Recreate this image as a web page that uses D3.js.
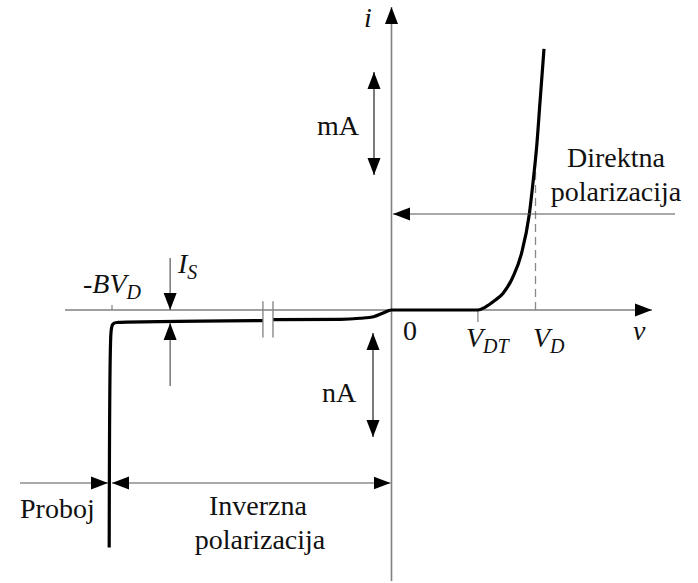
<!DOCTYPE html>
<html>
<head>
<meta charset="utf-8">
<script src="https://cdn.jsdelivr.net/npm/d3@7/dist/d3.min.js"></script>
<style>
  html, body { margin: 0; padding: 0; background: #fff; }
  svg { display: block; }
</style>
</head>
<body>
<svg id="chart" width="698" height="583"></svg>
<script>
// Diode i-v characteristic (schematic units: volts on v, mA forward / nA reverse on i)

// Voltage marks on the v axis
const markNames  = ["-BV_D", "0", "V_DT", "V_D"];
const markValues = [-50, 0, 0.6, 1.0];

// Forward branch (v, i in mA)
const fwdV = [0, 0.6, 0.649, 0.718, 0.774, 0.843, 0.903, 0.957, 0.985, 1.008, 1.031, 1.059];
const fwdI = [0, 0, 0.28, 1.0, 1.72, 3.44, 5.9, 9.97, 13.6, 17.0, 21.6, 27.2];

// Reverse branch, near zero (v, i in nA)
const revNearV = [-21.2, -9.1, -5.6, -3.2, -1.6, 0];
const revNearI = [-0.88, -0.85, -0.75, -0.61, -0.3, 0];

// Reverse branch, breakdown side (v, i)
const revFarV = [-50.5, -50.2, -50.05, -49.85, -49.5, -48.9, -23];
const revFarI = [-21.6, -2.2, -1.55, -1.3, -1.17, -1.13, -0.96];

// Axis break on the reverse branch
const breakV = [-23, -21.2];

// Reference currents
const currentI = { IS: -1, ID: 10 };

const FONT = "'Liberation Serif', Tinos, 'Times New Roman', 'DejaVu Serif', serif";
const svg = d3.select("#chart");

// Piecewise scales: reverse region compressed, forward region expanded
const x = d3.scaleLinear().domain([-50, 0, 1]).range([112, 391.5, 535.5]);
const y = d3.scaleLinear().domain([-1, 0, 10]).range([321, 310, 214]);

// Arrowhead marker
const defs = svg.append("defs");
defs.append("marker")
  .attr("id", "ah")
  .attr("markerUnits", "userSpaceOnUse")
  .attr("viewBox", "-17 -7 18 14")
  .attr("markerWidth", 18).attr("markerHeight", 14)
  .attr("refX", 0).attr("refY", 0)
  .attr("orient", "auto-start-reverse")
  .append("path").attr("d", "M0,0 L-17,-6.5 L-17,6.5 Z").attr("fill", "#000");

const axisColor = "#808080";
const thinColor = "#555";

function line(x1, y1, x2, y2, color, w) {
  return svg.append("line")
    .attr("x1", x1).attr("y1", y1).attr("x2", x2).attr("y2", y2)
    .attr("stroke", color).attr("stroke-width", w);
}

// Axes
const x0 = x(0), y0 = y(0);
line(65, y0, 652, y0, axisColor, 1.6).attr("marker-end", "url(#ah)");
line(x0, 581, x0, 7, axisColor, 1.6).attr("marker-end", "url(#ah)");

// Tick marks for -BV_D and V_DT
line(x(markValues[0]), y0 - 5, x(markValues[0]), y0, axisColor, 1.2);
line(x(markValues[2]), y0, x(markValues[2]), y0 + 12, axisColor, 1.2);

// Dashed guide at V_D up to the forward branch
const fwdAtVD = d3.scaleLinear().domain(fwdV.slice(7, 9)).range(fwdI.slice(7, 9))(markValues[3]);
line(x(markValues[3]), y0, x(markValues[3]), y(fwdAtVD) - 8, "#888", 1.3).attr("stroke-dasharray", "8,5");

// Characteristic curve
const path = d3.line().x(d => x(d[0])).y(d => y(d[1]));
const nearPts = revNearV.map((v, k) => [v, revNearI[k]]).concat(fwdV.slice(1).map((v, k) => [v, fwdI[k + 1]]));
const farPts = revFarV.map((v, k) => [v, revFarI[k]]);
svg.append("path").attr("d", path.curve(d3.curveMonotoneX)(nearPts))
  .attr("fill", "none").attr("stroke", "#000").attr("stroke-width", 3.2).attr("stroke-linejoin", "round");
svg.append("path").attr("d", path.curve(d3.curveCatmullRom.alpha(0.5))(farPts))
  .attr("fill", "none").attr("stroke", "#000").attr("stroke-width", 3.2).attr("stroke-linejoin", "round");

// Break symbol
breakV.forEach(v => line(x(v), y(0.9), x(v), y(-2.5), axisColor, 1.3));

// I_S indicator arrows
const xIS = x(-39.6);
line(xIS, 258, xIS, y0, thinColor, 1.2).attr("marker-end", "url(#ah)");
line(xIS, 386, xIS, y(currentI.IS) + 2, thinColor, 1.2).attr("marker-end", "url(#ah)");

// Scale arrows (mA above, nA below)
line(374, 72, 374, 175, "#222", 1.2).attr("marker-start", "url(#ah)").attr("marker-end", "url(#ah)");
line(373, 333, 373, 437, "#222", 1.2).attr("marker-start", "url(#ah)").attr("marker-end", "url(#ah)");

// Forward bias region arrow at I_D
line(675, y(currentI.ID), x0 + 1.5, y(currentI.ID), thinColor, 1.2).attr("marker-end", "url(#ah)");

// Breakdown / reverse bias region arrows
line(20, 483, 108, 483, thinColor, 1.2).attr("marker-end", "url(#ah)");
line(112, 483, x0 - 1, 483, thinColor, 1.2).attr("marker-start", "url(#ah)").attr("marker-end", "url(#ah)");

// Labels
const fs = 28, sub = 20;
function label(tx, ty, main, subs, italic, anchor) {
  const t = svg.append("text").attr("x", tx).attr("y", ty)
    .attr("font-family", FONT).attr("fill", "#111")
    .attr("font-size", fs).attr("text-anchor", anchor || "start");
  if (italic) t.attr("font-style", "italic");
  t.append("tspan").text(main);
  if (subs) t.append("tspan").attr("font-size", sub).attr("dy", 6).text(subs);
  return t;
}

label(364, 27, "i", null, true);
label(317, 135, "mA");
label(322, 402, "nA");
label(403, 340, "0");
label(466, 347, "V", "DT", true);
label(533, 347, "V", "D", true);
label(633, 340, "v", null, true);
label(83, 293, "-BV", "D", true);
label(178, 273, "I", "S", true);
label(616, 167, "Direktna", null, false, "middle");
label(616, 201, "polarizacija", null, false, "middle");
label(20, 518, "Proboj");
label(258, 515, "Inverzna", null, false, "middle");
label(260, 549, "polarizacija", null, false, "middle");
</script>
</body>
</html>
